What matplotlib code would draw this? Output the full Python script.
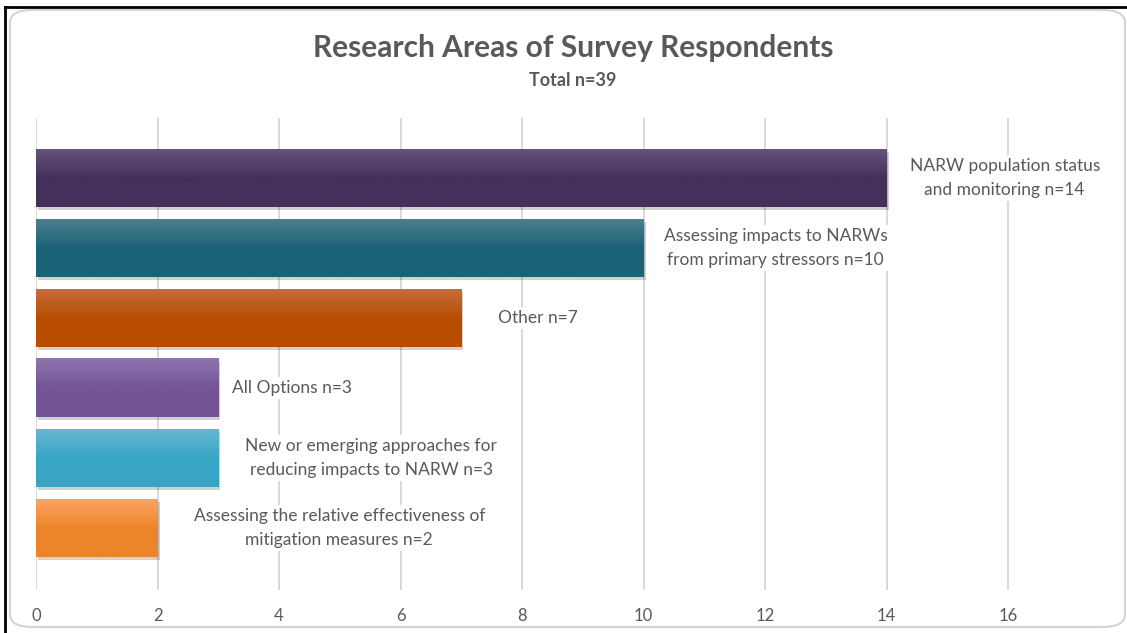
"""
Research areas of survey respondents, horizontal bar chart.
"""
import numpy as np
import matplotlib
matplotlib.use("Agg")
import matplotlib.pyplot as plt
import matplotlib.transforms as mtransforms
from matplotlib.colors import LinearSegmentedColormap
from matplotlib.patches import FancyBboxPatch, Rectangle
from matplotlib.lines import Line2D


CATEGORIES = [
    "NARW population status\nand monitoring n=14",
    "Assessing impacts to NARWs\nfrom primary stressors n=10",
    "Other n=7",
    "All Options n=3",
    "New or emerging approaches for\nreducing impacts to NARW n=3",
    "Assessing the relative effectiveness of\nmitigation measures n=2",
]
COUNTS = [14, 10, 7, 3, 3, 2]
X_TICKS = [0, 2, 4, 6, 8, 10, 12, 14, 16]

# (light top, dark bottom) for each bar
BAR_COLORS = [
    ("#65537a", "#45305a"),
    ("#4b7e8e", "#1a6278"),
    ("#c66c3c", "#b84d00"),
    ("#8e74ae", "#745497"),
    ("#65b8d2", "#39a5c5"),
    ("#fca462", "#ec8529"),
]
# gap between bar end and label, pixels
LABEL_PAD = [23, 20, 37, 14, 27, 36]

TEXT_COLOR = "#595959"
GRID_COLOR = "#d9d9d9"
W, H = 1127, 633

plt.rcParams["font.family"] = ["Lato", "DejaVu Sans"]

fig = plt.figure(figsize=(W / 100, H / 100), dpi=100)
ax = fig.add_axes([36 / W, 43 / H, (W - 36) / W, (590 - 118) / H])

y = np.arange(len(COUNTS))
bars = ax.barh(y, COUNTS, height=58 / 70, color="none", zorder=3)

# shadow + gradient fill for every bar
shadow_tr = mtransforms.offset_copy(ax.transData, fig=fig, x=2, y=-3, units="dots")
for bar, (light, dark) in zip(bars, BAR_COLORS):
    x0, y0 = bar.get_x(), bar.get_y()
    w, h = bar.get_width(), bar.get_height()
    ax.add_patch(Rectangle((x0, y0), w, h, transform=shadow_tr,
                           facecolor="#000000", alpha=0.18, lw=0, zorder=2))
    cmap = LinearSegmentedColormap.from_list("g", [light, dark, dark])
    grad = np.linspace(0, 1, 64).reshape(-1, 1)
    ax.imshow(grad, cmap=cmap, extent=(x0, x0 + w, y0 + h, y0),
              origin="upper", aspect="auto", zorder=3, interpolation="bilinear")

ax.set_xlim(0, (W - 36) / 60.75)
ax.set_ylim(5 + 62 / 70, -60 / 70)

# data labels
for bar, label, pad in zip(bars, CATEGORIES, LABEL_PAD):
    ax.annotate(label, xy=(bar.get_width(), bar.get_y() + bar.get_height() / 2),
                xytext=(pad * 0.72, 0), textcoords="offset points",
                ha="left", va="center", multialignment="center",
                fontsize=12.5, color=TEXT_COLOR, linespacing=1.55, zorder=4,
                bbox=dict(boxstyle="square,pad=0.2", fc="white", ec="none"))

ax.set_xticks(X_TICKS)
ax.set_yticks([])
ax.grid(axis="x", color=GRID_COLOR, lw=1.4, zorder=0)
ax.set_axisbelow(True)
ax.tick_params(axis="x", length=0, pad=13, labelsize=12, labelcolor=TEXT_COLOR)
for s in ax.spines.values():
    s.set_visible(False)

fig.text(573 / W, 1 - 48 / H, "Research Areas of Survey Respondents",
         ha="center", va="center", fontsize=21.5, fontweight="bold", color=TEXT_COLOR)
fig.text(573 / W, 1 - 80 / H, "Total n=39",
         ha="center", va="center", fontsize=13, fontweight="bold", color=TEXT_COLOR)

# chart frame
fig.add_artist(FancyBboxPatch((10 / W, 6 / H), (W - 12) / W, (H - 16) / H,
                              boxstyle="round,pad=0,rounding_size=0.02",
                              transform=fig.transFigure, fc="none",
                              ec="#d4d4d4", lw=1.5))
fig.add_artist(Line2D([5 / W, 5 / W], [0, 1 - 7 / H], color="black", lw=2,
                      transform=fig.transFigure))
fig.add_artist(Line2D([5 / W, 1], [1 - 7 / H, 1 - 7 / H], color="black", lw=2,
                      transform=fig.transFigure))

fig.savefig("out.png", dpi=100)
